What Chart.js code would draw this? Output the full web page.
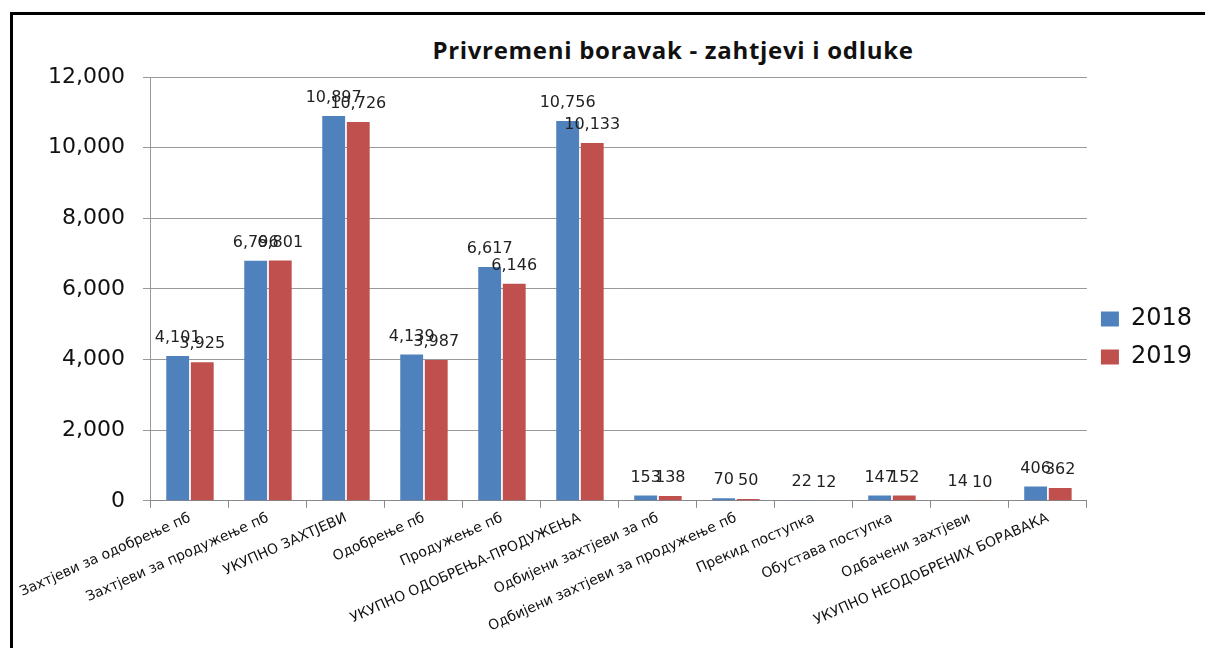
<!DOCTYPE html>
<html>
<head>
<meta charset="utf-8">
<script src="https://cdn.jsdelivr.net/npm/chart.js@4.4.1/dist/chart.umd.min.js"></script>
<style>
  html, body { margin: 0; padding: 0; background: #fff; }
  body { width: 1205px; height: 648px; position: relative; overflow: hidden; }
  .frame {
    position: absolute; left: 10px; top: 12px; width: 1300px; height: 700px;
    border-top: 3px solid #000; border-left: 3px solid #000;
  }
  .title {
    position: absolute; left: 0; width: 1346px; top: 33px; text-align: center;
    font: bold 24px "Open Sans", sans-serif; letter-spacing: 0.7px; color: #111;
  }
  .box { position: absolute; left: 13px; top: 15px; width: 1192px; height: 633px; }
</style>
</head>
<body>
<div class="frame"></div>
<div class="title">Privremeni boravak - zahtjevi i odluke</div>
<div class="box"><canvas id="chart"></canvas></div>
<script>
const categories = [
  "Захтјеви за одобрење пб",
  "Захтјеви за продужење пб",
  "УКУПНО ЗАХТЈЕВИ",
  "Одобрење пб",
  "Продужење пб",
  "УКУПНО ОДОБРЕЊА-ПРОДУЖЕЊА",
  "Одбијени захтјеви за пб",
  "Одбијени захтјеви за продужење пб",
  "Прекид поступка",
  "Обустава поступка",
  "Одбачени захтјеви",
  "УКУПНО НЕОДОБРЕНИХ БОРАВАКА"
];
const values2018 = [4101, 6796, 10897, 4139, 6617, 10756, 153, 70, 22, 147, 14, 406];
const values2019 = [3925, 6801, 10726, 3987, 6146, 10133, 138, 50, 12, 152, 10, 362];
const yTicks = [0, 2000, 4000, 6000, 8000, 10000, 12000];

const fmt = v => v.toLocaleString('en-US');

// value labels over each bar
const barLabels = {
  id: 'barLabels',
  afterDatasetsDraw(chart) {
    const ctx = chart.ctx;
    ctx.save();
    ctx.font = '16px "DejaVu Sans"';
    ctx.fillStyle = '#222';
    ctx.textAlign = 'center';
    ctx.textBaseline = 'middle';
    chart.data.datasets.forEach((ds, i) => {
      chart.getDatasetMeta(i).data.forEach((bar, j) => {
        ctx.fillText(fmt(ds.data[j]), bar.x, bar.y - 18);
      });
    });
    ctx.restore();
  }
};

new Chart(document.getElementById('chart'), {
  type: 'bar',
  data: {
    labels: categories,
    datasets: [
      { label: '2018', data: values2018, backgroundColor: '#4F81BD' },
      { label: '2019', data: values2019, backgroundColor: '#C0504D' }
    ]
  },
  options: {
    responsive: true,
    maintainAspectRatio: false,
    animation: false,
    categoryPercentage: 0.63,
    barPercentage: 0.93,
    layout: { padding: { left: 17, top: 62, right: 3, bottom: 11 } },
    plugins: {
      legend: {
        position: 'right',
        fullSize: false,
        title: { display: true, text: ' ', padding: { top: 0, bottom: 84 } },
        labels: {
          font: { family: 'DejaVu Sans', size: 24 },
          color: '#111',
          boxWidth: 18,
          boxHeight: 15,
          padding: 14
        }
      },
      title: { display: false },
      tooltip: { enabled: false }
    },
    scales: {
      x: {
        grid: { offset: true, drawOnChartArea: false, drawTicks: true, tickLength: 7, color: '#888' },
        border: { color: '#888' },
        ticks: {
          autoSkip: false,
          maxRotation: 24,
          minRotation: 24,
          padding: 2,
          color: '#111',
          font: { family: 'DejaVu Sans', size: 14 }
        }
      },
      y: {
        min: 0,
        max: 12000,
        afterBuildTicks: axis => { axis.ticks = yTicks.map(v => ({ value: v })); },
        grid: { color: '#999', tickLength: 8 },
        border: { color: '#999' },
        ticks: {
          padding: 18,
          color: '#111',
          font: { family: 'DejaVu Sans', size: 22 },
          callback: v => fmt(v)
        }
      }
    }
  },
  plugins: [barLabels]
});
</script>
</body>
</html>
